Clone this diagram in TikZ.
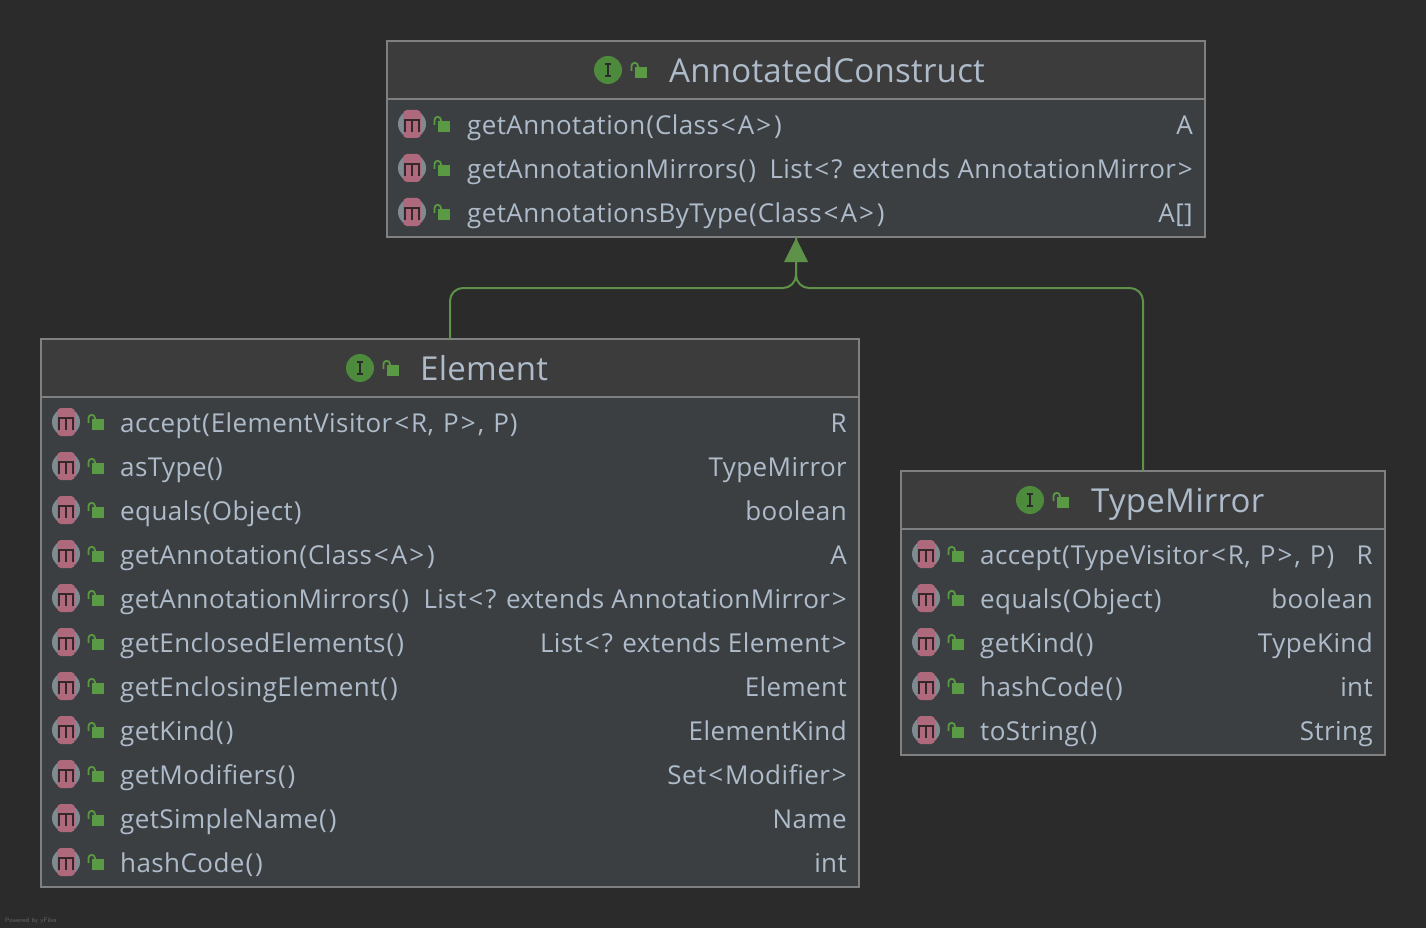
\documentclass[tikz,border=0pt]{standalone}
\usepackage{fontspec}
\usetikzlibrary{arrows.meta,calc}
\newfontfamily\uifont[LetterSpace=1.6]{Open Sans}
\newfontfamily\titlefont[LetterSpace=0.8]{Open Sans}
\definecolor{bgc}{HTML}{2B2B2B}
\definecolor{bodyc}{HTML}{3C3F41}
\definecolor{headc}{HTML}{3C3C3C}
\definecolor{borderc}{HTML}{808080}
\definecolor{textc}{HTML}{AEBBCA}
\definecolor{edgec}{HTML}{5F9249}
\definecolor{ifacec}{HTML}{4E8A3C}
\definecolor{lockc}{HTML}{5A9A45}
\definecolor{methc}{HTML}{AE6A7C}
\definecolor{ringc}{HTML}{7F8B91}
\definecolor{darkc}{HTML}{35282B}
\newcommand{\lt}{\kern2pt<\kern2pt}
\newcommand{\gt}{\kern2pt>\kern2pt}
\newcommand{\gte}{\kern2pt>}
\newcommand{\lp}{\kern1pt(\kern1pt}
\newcommand{\rp}{\kern1pt)\kern1pt}
\newcommand{\cm}{,\kern2pt}
\tikzset{
  x=1pt,y=-1pt,
  umlbody/.style={draw=borderc,line width=2pt,fill=bodyc,inner sep=0pt,outer sep=0pt,anchor=north west},
  umlhead/.style={draw=borderc,line width=2pt,fill=headc,inner sep=0pt,outer sep=0pt,anchor=north west},
  member/.style={text=textc,inner sep=0pt,anchor=base west,font=\uifont\fontsize{26}{30}\selectfont},
  rettype/.style={text=textc,inner sep=0pt,anchor=base east,font=\uifont\fontsize{26}{30}\selectfont},
  title/.style={text=textc,inner sep=0pt,anchor=base west,font=\titlefont\fontsize{33}{38}\selectfont},
  edge/.style={draw=edgec,line width=2pt,rounded corners=13pt},
}
% lock icon: #1 x of square's left, #2 y of square's top
\newcommand{\lockicon}[2]{%
  \fill[lockc] (#1,#2) rectangle ++(12,11);
  \draw[lockc,line width=1.8pt] ($(#1,#2)+(-3.5,4)$) -- ++(0,-5) arc[start angle=180,end angle=0,x radius=3.2,y radius=-3.2] -- ++(0,2);
}
% method icon centred at #1,#2
\newcommand{\methicon}[2]{%
  \fill[ringc] (#1,#2) circle[radius=14];
  \fill[methc,rounded corners=4pt] ($(#1,#2)+(-9,-14)$) rectangle ($(#1,#2)+(9,14)$);
  \draw[darkc,line width=2pt] ($(#1,#2)+(-7,8)$) -- ++(0,-12) -- ++(14,0) -- ++(0,12);
  \draw[darkc,line width=2pt] ($(#1,#2)+(0,-4)$) -- ++(0,12);
}
% interface icon centred at #1,#2
\newcommand{\ifaceicon}[2]{%
  \fill[ifacec] (#1,#2) circle[radius=14];
  \draw[bgc,line width=1.4pt] ($(#1,#2)+(-3,-6)$) -- ++(6,0) ($(#1,#2)+(-3,6)$) -- ++(6,0) ($(#1,#2)+(0,-6)$) -- ++(0,12);
}
% row: #1 name, #2 box left, #3 box right, #4 row centre y, #5 text x, #6 text, #7 type, #8 baseline offset
\newcommand{\rowline}[8]{%
  \methicon{#2+25}{#4-1}
  \lockicon{#2+51}{#4-4}
  \node[member] (#1m) at (#5,#4+#8) {#6};
  \node[rettype] (#1r) at (#3-12,#4+#8) {#7};
}
\begin{document}
\begin{tikzpicture}
\path[use as bounding box,fill=bgc] (0,0) rectangle (1426,928);

% AnnotatedConstruct
\node[umlbody,minimum width=818pt,minimum height=196pt] (AC) at (387,41) {};
\node[umlhead,minimum width=818pt,minimum height=58pt] (ACh) at (387,41) {};
\ifaceicon{608}{70}
\lockicon{635}{67}
\node[title] (ACt) at (669,83) {AnnotatedConstruct};
\rowline{aa}{387}{1205}{125}{467}{getAnnotation\lp Class\lt A\gt\rp}{A}{9.5}
\rowline{ab}{387}{1205}{169}{467}{getAnnotationMirrors\lp\rp}{List\lt? extends AnnotationMirror\gte}{9.5}
\rowline{ac}{387}{1205}{213}{467}{getAnnotationsByType\lp Class\lt A\gt\rp}{A[]}{9.5}

% Element
\node[umlbody,minimum width=818pt,minimum height=548pt] (EL) at (41,339) {};
\node[umlhead,minimum width=818pt,minimum height=58pt] (ELh) at (41,339) {};
\ifaceicon{360}{368}
\lockicon{387}{365}
\node[title] (ELt) at (420,380) {Element};
\rowline{ea}{41}{859}{423}{120}{accept\lp ElementVisitor\lt R\cm{} P\gt\cm{} P\rp}{R}{9}
\rowline{eb}{41}{859}{467}{120}{asType()}{TypeMirror}{9}
\rowline{ec}{41}{859}{511}{120}{equals\lp Object\rp}{boolean}{9}
\rowline{ed}{41}{859}{555}{120}{getAnnotation\lp Class\lt A\gt\rp}{A}{9}
\rowline{ee}{41}{859}{599}{120}{getAnnotationMirrors\lp\rp}{List\lt? extends AnnotationMirror\gte}{9}
\rowline{ef}{41}{859}{643}{120}{getEnclosedElements\lp\rp}{List\lt? extends Element\gte}{9}
\rowline{eg}{41}{859}{687}{120}{getEnclosingElement\lp\rp}{Element}{9}
\rowline{eh}{41}{859}{731}{120}{getKind\lp\rp}{ElementKind}{9}
\rowline{ei}{41}{859}{775}{120}{getModifiers\lp\rp}{Set\lt Modifier\gte}{9}
\rowline{ej}{41}{859}{819}{120}{getSimpleName\lp\rp}{Name}{9}
\rowline{ek}{41}{859}{863}{120}{hashCode\lp\rp}{int}{9}

% TypeMirror
\node[umlbody,minimum width=484pt,minimum height=284pt] (TM) at (901,471) {};
\node[umlhead,minimum width=484pt,minimum height=58pt] (TMh) at (901,471) {};
\ifaceicon{1030}{500}
\lockicon{1057}{497}
\node[title] (TMt) at (1091,512) {TypeMirror};
\rowline{ta}{901}{1385}{555}{980}{accept\lp TypeVisitor\lt R\cm{} P\gt\cm{} P\rp}{R}{9}
\rowline{tb}{901}{1385}{599}{980}{equals\lp Object\rp}{boolean}{9}
\rowline{tc}{901}{1385}{643}{980}{getKind\lp\rp}{TypeKind}{9}
\rowline{td}{901}{1385}{687}{980}{hashCode\lp\rp}{int}{9}
\rowline{te}{901}{1385}{731}{980}{toString\lp\rp}{String}{9}

% connectors
\coordinate (join) at ($(AC.south)+(0,51)$);
\draw[edge] (EL.north) |- (join) -- (AC.south);
\draw[edge] (TM.north) |- (join) -- (AC.south);
\path[fill=edgec] (AC.south) ++(0,1) -- ++(-12,24) -- ++(24,0) -- cycle;

\node[text=gray!70!bgc,inner sep=0pt,anchor=base west,font=\fontsize{6.5}{8}\selectfont\sffamily] (pw) at (5,922) {Powered by yFiles};
\end{tikzpicture}
\end{document}
